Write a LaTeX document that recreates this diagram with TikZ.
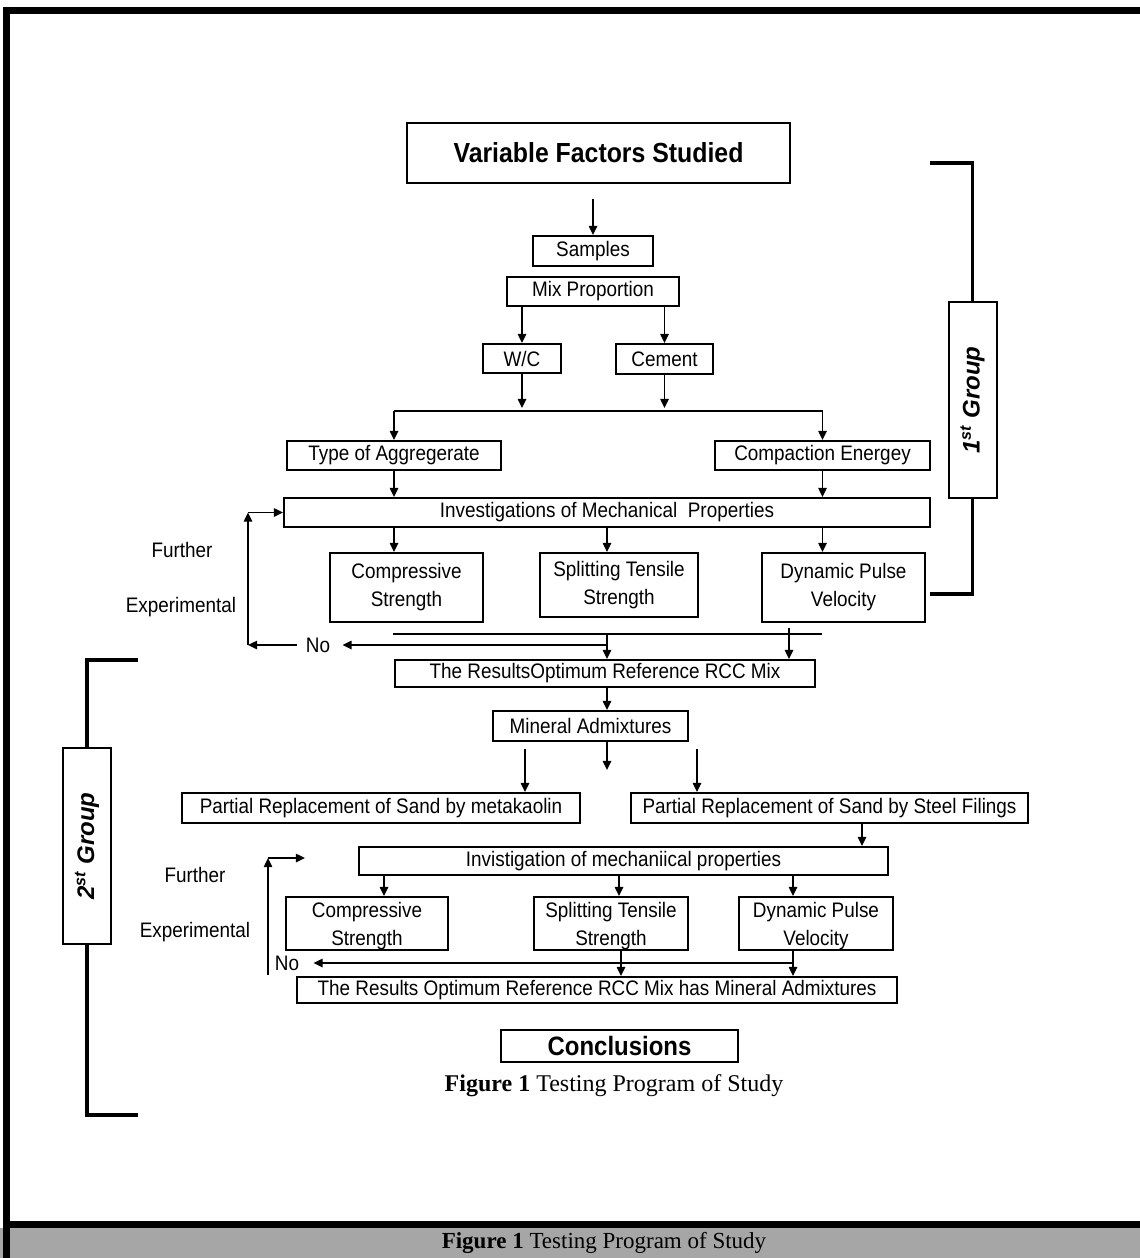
\documentclass[tikz,border=0pt]{standalone}
\usepackage{fontspec}
\setmainfont{Liberation Serif}
\setsansfont{Liberation Sans}
\newfontfamily\boxfont{Liberation Sans}[FakeStretch=0.9]
\usetikzlibrary{arrows.meta,calc,positioning}
\definecolor{capgrey}{HTML}{A6A6A6}

\tikzset{
  box/.style={draw, line width=1pt, inner sep=0pt, align=center,
    font=\boxfont\fontsize{10.5}{14}\selectfont},
  lowbox/.style={box, text depth=-1.5pt},
  lbl/.style={inner sep=0pt, font=\boxfont\fontsize{10.5}{11}\selectfont},
  arr/.style={-{Triangle[length=4.6pt,width=4.2pt]}, line width=0.9pt},
  line/.style={line width=0.9pt},
  brace/.style={line width=1.9pt},
  grp/.style={draw, line width=1pt, rotate=90, minimum width=98pt,
    minimum height=24pt, inner sep=0pt,
    font=\sffamily\bfseries\itshape\fontsize{12}{14}\selectfont},
}

\begin{document}
\begin{tikzpicture}[x=0.5pt,y=-0.5pt]
	\useasboundingbox (0,0) rectangle (1140,1258);
	% page frame and caption bar
	\fill[capgrey] (0,1228) rectangle (1140,1258);
	\draw[line width=3.5pt] (1140,10) -- (6,10) -- (6,1258);
	\draw[line width=3.5pt] (6,1224.5) -- (1140,1224.5);
	\node[font=\fontsize{11.5}{13}\selectfont] (cap2) at (604,1243) {\textbf{Figure 1} Testing Program of Study};

	% first group
	\node[box, minimum width=191.5pt, minimum height=30pt,
		font=\boxfont\bfseries\fontsize{13.8}{14}\selectfont] (head) at (598.5,153) {Variable Factors Studied};
	\node[box, minimum width=60pt, minimum height=15pt] (samples) at (593,251) {Samples};
	\node[box, minimum width=86pt, minimum height=14.5pt] (mix) at (593,291.5) {Mix Proportion};
	\node[box, minimum width=39pt, minimum height=14.5pt] (wc) at (522,358.5) {W/C};
	\node[box, minimum width=48.5pt, minimum height=15pt] (cement) at (664.5,359) {Cement};
	\node[box, minimum width=107pt, minimum height=14.5pt] (aggr) at (394,455.5) {Type of Aggregerate};
	\node[box, minimum width=107.5pt, minimum height=14.5pt] (compact) at (822.5,455.5) {Compaction Energey};
	\node[box, minimum width=323pt, minimum height=14.5pt] (invest) at (607,512.5) {Investigations of Mechanical\ \ Properties};
	\node[box, minimum width=76.5pt, minimum height=34.5pt] (comp) at (406.5,587.5) {Compressive\\Strength};
	\node[box, minimum width=79pt, minimum height=32pt] (split) at (619,585) {Splitting Tensile\\Strength};
	\node[box, minimum width=81.5pt, minimum height=34.5pt] (pulse) at (843.5,587.5) {Dynamic Pulse\\Velocity};
	\node[box, minimum width=210pt, minimum height=13.5pt] (res) at (605,673.5) {The ResultsOptimum Reference RCC Mix};

	\coordinate (hsplit) at (593,411);
	\coordinate (busL) at (393,634);
	\coordinate (busR) at (822,634);
	\coordinate (tapR) at (789,628);
	\coordinate (lowR) at (607,645);
	\coordinate (fbA) at (248,645);
	\coordinate (fbB) at (248,512.5);

	\draw[arr] ([yshift=-7.5pt]head.south -| samples) -- (samples.north);
	\draw[arr] (mix.south -| wc) -- (wc.north);
	\draw[arr] (mix.south -| cement) -- (cement.north);
	\draw[arr] (wc.south) -- ([yshift=1.5pt]wc |- hsplit);
	\draw[arr] (cement.south) -- ([yshift=1.5pt]cement |- hsplit);
	\draw[arr] (aggr |- hsplit) -- (aggr.north);
	\draw[arr] (compact |- hsplit) -- (compact.north);
	\draw[line] (aggr |- hsplit) -- (compact |- hsplit);
	\draw[arr] (aggr.south) -- (invest.north -| aggr);
	\draw[arr] (compact.south) -- (invest.north -| compact);
	\draw[arr] (invest.south -| aggr) -- (comp.north -| aggr);
	\draw[arr] (invest.south) -- (split.north -| invest);
	\draw[arr] (invest.south -| compact) -- (pulse.north -| compact);
	\draw[line] (busL) -- (busR);
	\draw[arr] (busL -| invest) -- (res.north -| invest);
	\draw[arr] (tapR) -- (res.north -| tapR);

	\node[lbl] (no) at (318,645) {No};
	\node[lbl] (further) at (182,550) {Further};
	\node[lbl] (exper) at (181,607) {Experimental};
	\draw[arr] (lowR) -- ([xshift=6pt]no.east);
	\draw[arr] ([xshift=-4.5pt]no.west) -- (fbA);
	\draw[arr] (fbA) -- (fbB);
	\draw[arr] (fbB) -- (invest.west);

	\node[grp] (grp1) at (972.5,400) {1\textsuperscript{st} Group};
	\draw[brace] (930,163) -- (grp1.east |- 0,163) -- (grp1.east);
	\draw[brace] (grp1.west) -- (grp1.west |- 0,594) -- (930,594);

	% second group
	\node[box, minimum width=97.5pt, minimum height=15pt] (mineral) at (590.5,726) {Mineral Admixtures};
	\node[box, minimum width=199pt, minimum height=15pt] (meta) at (381,808) {Partial Replacement of Sand by metakaolin};
	\node[box, minimum width=198.5pt, minimum height=15pt] (steel) at (829.5,808) {Partial Replacement of Sand by Steel Filings};
	\node[box, minimum width=264.5pt, minimum height=14pt] (invest2) at (623.5,861) {Invistigation of mechaniical properties};
	\node[lowbox, minimum width=81pt, minimum height=26.5pt] (comp2) at (367,923.5) {Compressive\\Strength};
	\node[lowbox, minimum width=77pt, minimum height=26.5pt] (split2) at (611,923.5) {Splitting Tensile\\Strength};
	\node[lowbox, minimum width=77pt, minimum height=26.5pt] (pulse2) at (816,923.5) {Dynamic Pulse\\Velocity};
	\node[box, minimum width=300pt, minimum height=13pt] (res2) at (597,990) {The Results Optimum Reference RCC Mix has Mineral Admixtures};
	\node[box, minimum width=118.5pt, minimum height=16pt,
		font=\boxfont\bfseries\fontsize{13.3}{14}\selectfont] (concl) at (619.5,1046) {Conclusions};
	\node[font=\fontsize{12}{14}\selectfont] (cap1) at (614,1086) {\textbf{Figure 1} Testing Program of Study};

	\coordinate (mA) at (525,749);
	\coordinate (mB) at (607,742);
	\coordinate (mBend) at (607,770);
	\coordinate (mC) at (697,749);
	\coordinate (sx) at (862,0);
	\coordinate (ax) at (384,0);
	\coordinate (bx) at (619,0);
	\coordinate (cx) at (793,0);
	\coordinate (dx) at (621,0);
	\coordinate (upA) at (268,975);
	\coordinate (upB) at (268,858);
	\coordinate (upC) at (305,858);

	\draw[arr] (res.south -| invest) -- (mineral.north -| invest);
	\draw[arr] (mA) -- (meta.north -| mA);
	\draw[arr] (mB) -- (mBend);
	\draw[arr] (mC) -- (steel.north -| mC);
	\draw[arr] (steel.south -| sx) -- (invest2.north -| sx);
	\draw[arr] (invest2.south -| ax) -- (comp2.north -| ax);
	\draw[arr] (invest2.south -| bx) -- (split2.north -| bx);
	\draw[arr] (invest2.south -| cx) -- (pulse2.north -| cx);
	\draw[arr] (split2.south -| dx) -- (res2.north -| dx);
	\draw[arr] (pulse2.south -| cx) -- (res2.north -| cx);

	\node[lbl] (no2) at (287,963) {No};
	\node[lbl] (further2) at (195,875) {Further};
	\node[lbl] (exper2) at (195,932) {Experimental};
	\draw[arr] (no2 -| cx) -- ([xshift=7pt]no2.east);
	\draw[arr] (upA) -- (upB);
	\draw[arr] (upB) -- (upC);

	\node[grp] (grp2) at (87,846) {2\textsuperscript{st} Group};
	\draw[brace] (138,660) -- (grp2.east |- 0,660) -- (grp2.east);
	\draw[brace] (grp2.west) -- (grp2.west |- 0,1115) -- (138,1115);
\end{tikzpicture}
\end{document}
